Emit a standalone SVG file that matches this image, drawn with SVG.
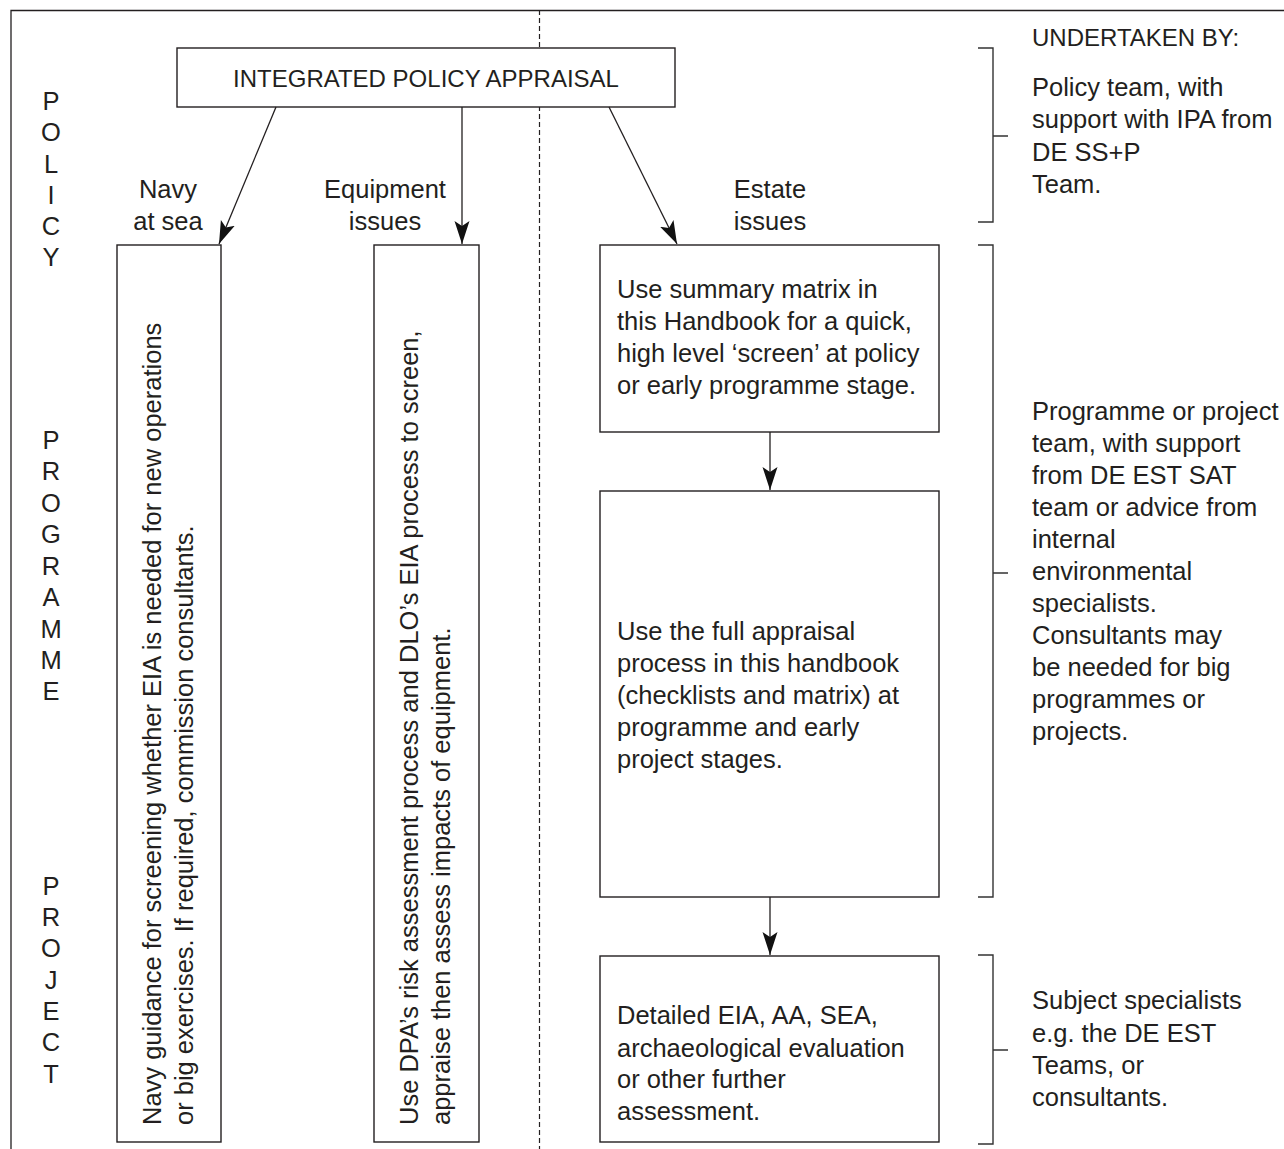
<svg xmlns="http://www.w3.org/2000/svg" width="1284" height="1149" viewBox="0 0 1284 1149">
<style>
text{font-family:"Liberation Sans",Arial,sans-serif;font-size:25.5px;fill:#231f20}
.c{text-anchor:middle}
.box{fill:#fff;stroke:#231f20;stroke-width:1.4}
.ln{fill:none;stroke:#231f20;stroke-width:1.3}
.br{fill:none;stroke:#333;stroke-width:1.4}
</style>
<defs>
<marker id="ah" markerUnits="userSpaceOnUse" markerWidth="26" markerHeight="18" refX="23" refY="8" orient="auto">
<path d="M0,0.5 L23,8 L0,15.5 L5,8 z" fill="#111"/>
</marker>
</defs>
<rect width="1284" height="1149" fill="#fff"/>
<g id="frame">
<path class="ln" d="M11,1149 V10.5 H1284" stroke-width="1.5"/>
<line x1="539.5" y1="10" x2="539.5" y2="1149" stroke="#231f20" stroke-width="1.2" stroke-dasharray="5,3"/>
</g>
<g id="stages">
<text class="c" x="51" y="110">P</text>
<text class="c" x="51" y="141">O</text>
<text class="c" x="51" y="173">L</text>
<text class="c" x="51" y="204">I</text>
<text class="c" x="51" y="235">C</text>
<text class="c" x="51" y="266">Y</text>
<text class="c" x="51" y="449">P</text>
<text class="c" x="51" y="480">R</text>
<text class="c" x="51" y="512">O</text>
<text class="c" x="51" y="543">G</text>
<text class="c" x="51" y="575">R</text>
<text class="c" x="51" y="606">A</text>
<text class="c" x="51" y="638">M</text>
<text class="c" x="51" y="669">M</text>
<text class="c" x="51" y="700">E</text>
<text class="c" x="51" y="895">P</text>
<text class="c" x="51" y="926">R</text>
<text class="c" x="51" y="957">O</text>
<text class="c" x="51" y="989">J</text>
<text class="c" x="51" y="1020">E</text>
<text class="c" x="51" y="1051">C</text>
<text class="c" x="51" y="1083">T</text>
</g>
<g id="ipa">
<rect class="box" x="177" y="48" width="498" height="59"/>
<text class="c" x="426" y="87" style="font-size:24px">INTEGRATED POLICY APPRAISAL</text>
</g>
<g id="labels">
<text class="c" x="168" y="198">Navy</text>
<text class="c" x="168" y="230">at sea</text>
<text class="c" x="385" y="198">Equipment</text>
<text class="c" x="385" y="230">issues</text>
<text class="c" x="770" y="198">Estate</text>
<text class="c" x="770" y="230">issues</text>
</g>
<g id="navy">
<rect class="box" x="117" y="245" width="104" height="897"/>
<text transform="translate(161,1125) rotate(-90)">Navy guidance for screening whether EIA is needed for new operations</text>
<text transform="translate(193,1125) rotate(-90)">or big exercises. If required, commission consultants.</text>
</g>
<g id="equipment">
<rect class="box" x="374" y="245" width="105" height="897"/>
<text transform="translate(418,1125) rotate(-90)">Use DPA’s risk assessment process and DLO’s EIA process to screen,</text>
<text transform="translate(450,1125) rotate(-90)">appraise then assess impacts of equipment.</text>
</g>
<g id="estate1">
<rect class="box" x="600" y="245" width="339" height="187"/>
<text x="617" y="298">Use summary matrix in</text>
<text x="617" y="330">this Handbook for a quick,</text>
<text x="617" y="362">high level ‘screen’ at policy</text>
<text x="617" y="394">or early programme stage.</text>
</g>
<g id="estate2">
<rect class="box" x="600" y="491" width="339" height="406"/>
<text x="617" y="640">Use the full appraisal</text>
<text x="617" y="672">process in this handbook</text>
<text x="617" y="704">(checklists and matrix) at</text>
<text x="617" y="736">programme and early</text>
<text x="617" y="768">project stages.</text>
</g>
<g id="estate3">
<rect class="box" x="600" y="956" width="339" height="186"/>
<text x="617" y="1024">Detailed EIA, AA, SEA,</text>
<text x="617" y="1057">archaeological evaluation</text>
<text x="617" y="1088">or other further</text>
<text x="617" y="1120">assessment.</text>
</g>
<g id="undertaken">
<text x="1032" y="46" style="font-size:24px">UNDERTAKEN BY:</text>
<path class="br" d="M978,48 H993 V222 H978 M993,136 H1008"/>
<text x="1032" y="96">Policy team, with</text>
<text x="1032" y="128">support with IPA from</text>
<text x="1032" y="161">DE SS+P</text>
<text x="1032" y="193">Team.</text>
<path class="br" d="M978,245 H993 V897 H978 M993,573 H1008"/>
<text x="1032" y="420">Programme or project</text>
<text x="1032" y="452">team, with support</text>
<text x="1032" y="484">from DE EST SAT</text>
<text x="1032" y="516">team or advice from</text>
<text x="1032" y="548">internal</text>
<text x="1032" y="580">environmental</text>
<text x="1032" y="612">specialists.</text>
<text x="1032" y="644">Consultants may</text>
<text x="1032" y="676">be needed for big</text>
<text x="1032" y="708">programmes or</text>
<text x="1032" y="740">projects.</text>
<path class="br" d="M978,955 H993 V1144 H978 M993,1050 H1008"/>
<text x="1032" y="1009">Subject specialists</text>
<text x="1032" y="1042">e.g. the DE EST</text>
<text x="1032" y="1074">Teams, or</text>
<text x="1032" y="1106">consultants.</text>
</g>
<g id="connectors">
<line class="ln" x1="276" y1="107" x2="219" y2="244" marker-end="url(#ah)"/>
<line class="ln" x1="462" y1="107" x2="462" y2="244" marker-end="url(#ah)"/>
<line class="ln" x1="609" y1="107" x2="677" y2="244" marker-end="url(#ah)"/>
<line class="ln" x1="770" y1="432" x2="770" y2="490" marker-end="url(#ah)"/>
<line class="ln" x1="770" y1="897" x2="770" y2="955" marker-end="url(#ah)"/>
</g>
</svg>
